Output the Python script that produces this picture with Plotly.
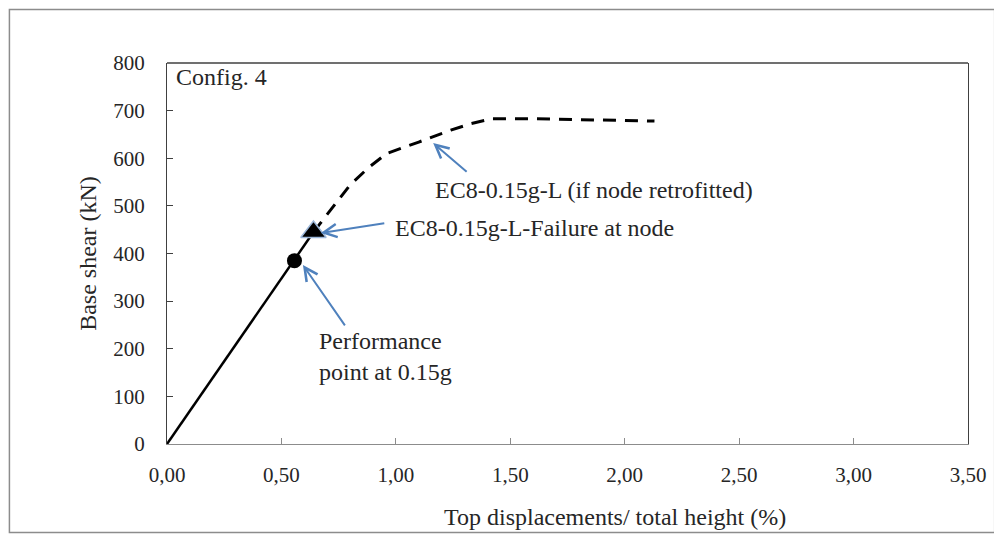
import plotly.graph_objects as go

# Solid part of the pushover curve (up to node failure)
solid_x = [0.00, 0.557, 0.64]
solid_y = [0, 385, 445]

# Dashed continuation (if node retrofitted)
dash_x = [0.64, 0.72, 0.80, 0.88, 0.96, 1.10, 1.24, 1.33, 1.42, 1.60, 1.80, 2.00, 2.13]
dash_y = [445, 495, 544, 580, 610, 634, 659, 673, 683, 683, 681, 679, 678]

# Markers
perf_x, perf_y = [0.557], [385]
fail_x, fail_y = [0.64], [445]

x_ticks = [0.0, 0.5, 1.0, 1.5, 2.0, 2.5, 3.0, 3.5]
y_ticks = [0, 100, 200, 300, 400, 500, 600, 700, 800]

x_title = "Top displacements/ total height (%)"
y_title = "Base shear (kN)"

FONT = "Liberation Serif"
TXT = "#262626"
BLUE = "#4F81BD"
AFS = 24  # annotation font size
TFS = 21  # tick font size

fig = go.Figure()
fig.add_trace(go.Scatter(x=dash_x, y=dash_y, mode="lines",
                         line=dict(color="black", width=3, dash="13px,9px"),
                         showlegend=False, hoverinfo="skip"))
fig.add_trace(go.Scatter(x=solid_x, y=solid_y, mode="lines",
                         line=dict(color="black", width=2.5),
                         showlegend=False, hoverinfo="skip"))
fig.add_trace(go.Scatter(x=perf_x, y=perf_y, mode="markers",
                         marker=dict(symbol="circle", size=15, color="black"),
                         showlegend=False))
fig.add_trace(go.Scatter(x=fail_x, y=fail_y, mode="markers",
                         marker=dict(symbol="triangle-up", size=22, color="black",
                                     line=dict(color="#9DB8DA", width=1.5)),
                         showlegend=False))

OFF = 8  # page body margin
W, H = 1002, 540
L, T = 166.7 - OFF, 62.7 - OFF
pw, ph = 968.3 - 166.7, 444.3 - 62.7
R = W - L - pw
B = H - T - ph


def px_to_paper_x(p):
    return (p - OFF - L) / pw


def px_to_paper_y(p):
    return (T + ph - (p - OFF)) / ph


annotations = [
    dict(x=1.163, y=632, xref="x", yref="y", text="", showarrow=True,
         ax=35, ay=30, arrowhead=5, arrowsize=1.3, arrowwidth=2, arrowcolor=BLUE),
    dict(x=0.672, y=443, xref="x", yref="y", text="", showarrow=True,
         ax=65, ay=-10, arrowhead=5, arrowsize=1.3, arrowwidth=2, arrowcolor=BLUE),
    dict(x=0.594, y=376, xref="x", yref="y", text="", showarrow=True,
         ax=43, ay=62, arrowhead=5, arrowsize=1.3, arrowwidth=2, arrowcolor=BLUE),
    dict(x=1.163, y=533, xref="x", yref="y", text="EC8-0.15g-L (if node retrofitted)",
         showarrow=False, xanchor="left", yanchor="middle",
         font=dict(family=FONT, size=AFS, color=TXT)),
    dict(x=0.988, y=453, xref="x", yref="y", text="EC8-0.15g-L-Failure at node",
         showarrow=False, xanchor="left", yanchor="middle",
         font=dict(family=FONT, size=AFS, color=TXT)),
    dict(x=0.655, y=183, xref="x", yref="y", text="Performance<br>point at 0.15g",
         showarrow=False, xanchor="left", yanchor="middle", align="left",
         font=dict(family=FONT, size=AFS, color=TXT)),
    dict(x=0.03, y=770, xref="x", yref="y", text="Config. 4",
         showarrow=False, xanchor="left", yanchor="middle",
         font=dict(family=FONT, size=AFS, color=TXT)),
    dict(x=px_to_paper_x(615), y=px_to_paper_y(517), xref="paper", yref="paper",
         text=x_title, showarrow=False, xanchor="center", yanchor="middle",
         font=dict(family=FONT, size=AFS, color=TXT)),
]

shapes = [
    dict(type="rect", xref="paper", yref="paper",
         x0=px_to_paper_x(9), x1=px_to_paper_x(995),
         y0=px_to_paper_y(533), y1=px_to_paper_y(9),
         line=dict(color="#8c8c8c", width=1.5), layer="below"),
    dict(type="line", xref="paper", yref="paper", x0=0, x1=1, y0=1, y1=1,
         line=dict(color="#404040", width=1.3)),
]

fig.update_layout(
    width=W, height=H,
    margin=dict(l=L, r=R, t=T, b=B),
    paper_bgcolor="white", plot_bgcolor="white",
    separators=", ",
    font=dict(family=FONT, size=TFS, color=TXT),
    annotations=annotations,
    shapes=shapes,
    showlegend=False,
)
fig.update_xaxes(range=[0, 3.5], tickvals=x_ticks, tickformat=".2f",
                 showgrid=False, zeroline=False,
                 showline=True, linecolor="#8c8c8c", linewidth=1.3,
                 ticks="inside", ticklen=6, tickcolor="#8c8c8c",
                 tickfont=dict(family=FONT, size=TFS, color=TXT),
                 ticklabelstandoff=12)
fig.update_yaxes(range=[0, 800], tickvals=y_ticks,
                 showgrid=False, zeroline=False,
                 showline=True, linecolor="#404040", linewidth=1.3, mirror=True,
                 ticks="inside", ticklen=6, tickcolor="#404040",
                 tickfont=dict(family=FONT, size=TFS, color=TXT),
                 ticklabelstandoff=17,
                 title=dict(text=y_title,
                            font=dict(family=FONT, size=AFS, color=TXT), standoff=9))

fig.write_html("out.html")
